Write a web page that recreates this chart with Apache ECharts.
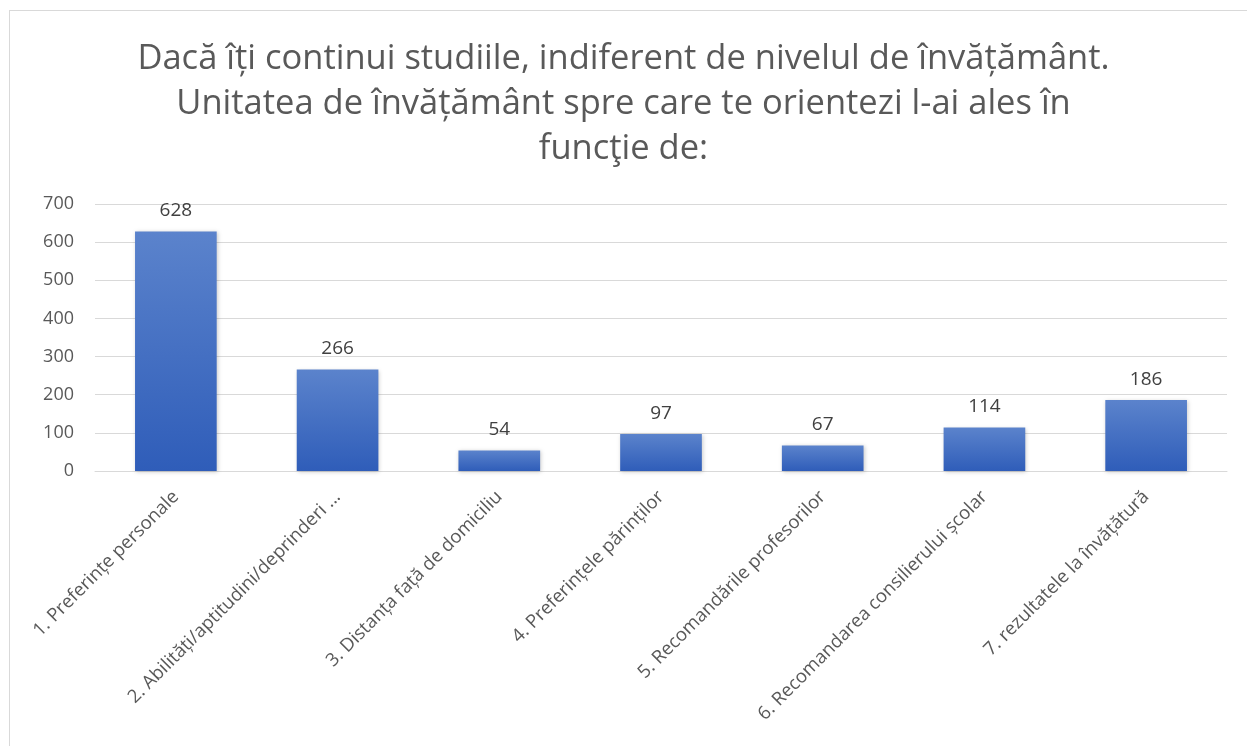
<!DOCTYPE html>
<html>
<head>
<meta charset="utf-8">
<script src="https://cdn.jsdelivr.net/npm/echarts@6/dist/echarts.min.js"></script>
<style>
html,body{margin:0;padding:0;background:#fff;}
#frame{position:absolute;left:9px;top:10px;width:1250px;height:750px;border:1px solid #d9d9d9;box-sizing:border-box;}
#chart{position:absolute;left:0;top:0;width:1247px;height:746px;}
</style>
</head>
<body>
<div id="frame"></div>
<div id="chart"></div>
<script>
const titleText = "Dacă îți continui studiile, indiferent de nivelul de învățământ.\nUnitatea de învățământ spre care te orientezi l-ai ales în\nfuncţie de:";
const categories = [
  "1. Preferințe personale",
  "2. Abilități/aptitudini/deprinderi ...",
  "3. Distanța față de domiciliu",
  "4. Preferințele părinților",
  "5. Recomandările profesorilor",
  "6. Recomandarea consilierului școlar",
  "7. rezultatele la învățătură"
];
const values = [628, 266, 54, 97, 67, 114, 186];
const yTicks = [0, 100, 200, 300, 400, 500, 600, 700];

const chart = echarts.init(document.getElementById('chart'));
chart.setOption({
  animation: false,
  title: {
    text: titleText,
    left: 'center',
    top: 32,
    textStyle: {fontFamily: 'Open Sans', fontSize: 34.5, fontWeight: 'normal', color: '#595959', lineHeight: 45}
  },
  grid: {left: 95, right: 20, top: 204, bottom: 275, containLabel: false},
  xAxis: {
    type: 'category',
    data: categories,
    axisLine: {lineStyle: {color: '#d9d9d9'}},
    axisTick: {show: false},
    axisLabel: {rotate: 45, interval: 0, color: '#595959', fontFamily: 'Open Sans', fontSize: 18.5, margin: 23}
  },
  yAxis: {
    type: 'value',
    min: 0, max: 700, interval: 100,
    axisLine: {show: false},
    axisTick: {show: false},
    splitLine: {lineStyle: {color: '#d9d9d9', width: 1}},
    axisLabel: {color: '#595959', fontFamily: 'Open Sans', fontSize: 18, margin: 21,
      formatter: v => yTicks.includes(v) ? String(v) : ''}
  },
  series: [{
    type: 'bar',
    data: values,
    barWidth: '50.5%',
    itemStyle: {
      color: new echarts.graphic.LinearGradient(0, 0, 0, 1, [
        {offset: 0, color: '#5B83CC'},
        {offset: 1, color: '#2F5DB9'}
      ]),
      shadowColor: 'rgba(0,0,0,0.2)',
      shadowBlur: 4,
      shadowOffsetX: 1,
      shadowOffsetY: 1
    },
    label: {show: true, position: 'top', distance: 11, color: '#404040', fontFamily: 'Open Sans', fontSize: 19}
  }]
});
</script>
</body>
</html>
